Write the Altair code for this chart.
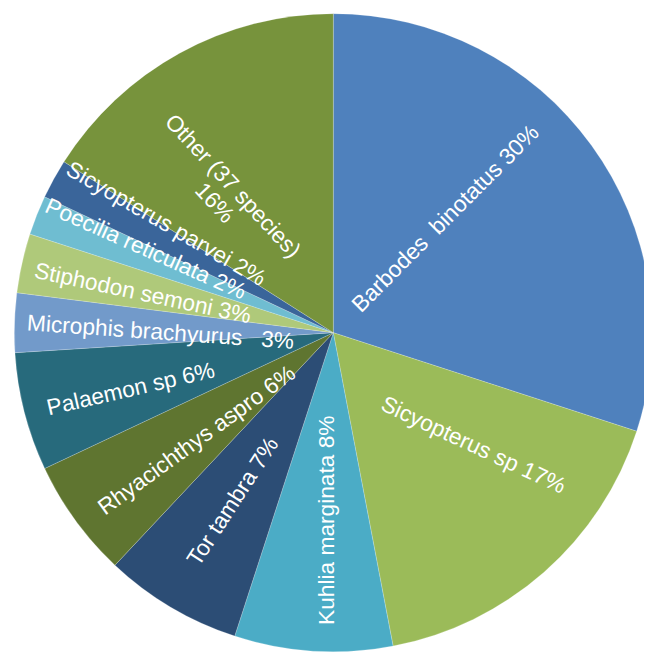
import math
import altair as alt
import pandas as pd

# ---- data ----
species = [
    "Barbodes\u00a0\u00a0binotatus", "Sicyopterus sp", "Kuhlia marginata", "Tor tambra",
    "Rhyacichthys aspro", "Palaemon sp", "Microphis brachyurus\u00a0\u00a0", "Stiphodon semoni",
    "Poecilia reticulata", "Sicyopterus parvei", "Other (37 species)",
]
percent = [30, 17, 8, 7, 6, 6, 3, 3, 2, 2, 16]
colors = [
    "#4F81BD", "#9BBB59", "#4BACC6", "#2C4D75", "#5F7530", "#276A7C",
    "#729ACA", "#AFC97A", "#6FBDD1", "#3A659A", "#77933C",
]

# ---- label layout (annotation styling, not data) ----
label_shift = [-2.6, -2.7, -0.45, 0.0, -0.65, -0.35, -0.5, -0.3, 0.65, 1.15, -1.6]
label_radius = [162, 182, 190, 199, 176, 213, 175, 197, 208, 202, 180]
label_rotation = [315, 25, 270, 303, 324, 347, 4, 12, 24, 30, 47]

cum = []
s = 0
for v in percent:
    cum.append(s)
    s += v

labels = []
for name, v in zip(species, percent):
    if name.startswith("Other"):
        labels.append(f"{name}\n{v}%")
    else:
        labels.append(f"{name} {v}%")

df = pd.DataFrame({
    "species": species,
    "percent": percent,
    "order": list(range(len(species))),
    "label": labels,
    "mid": [c + v / 2 + sh for c, v, sh in zip(cum, percent, label_shift)],
    "lr": label_radius,
    "rot": label_rotation,
})

CX, CY, R = 329.4, 324.7, 323
theta_scale = alt.Scale(domain=[0, 100], range=[0, 2 * math.pi])
color_scale = alt.Scale(domain=species, range=colors)

pie = alt.Chart(df).mark_arc(
    radius=R, stroke="#ffffff", strokeWidth=0.6, strokeOpacity=0.35
).encode(
    theta=alt.Theta("percent:Q", stack=True, scale=theta_scale),
    order=alt.Order("order:Q"),
    color=alt.Color("species:N", scale=color_scale, legend=None),
    x=alt.value(CX),
    y=alt.value(CY),
)

text = alt.Chart(df).mark_text(
    font="Liberation Sans", fontSize=23, color="white",
    align="center", baseline="middle", lineBreak="\n", lineHeight=25,
).encode(
    theta=alt.Theta("mid:Q", stack=None, scale=theta_scale),
    radius=alt.Radius("lr:Q", scale=None),
    angle=alt.Angle("rot:Q", scale=None),
    text="label:N",
    x=alt.value(CX),
    y=alt.value(CY),
)

chart = alt.layer(pie, text).properties(
    width=644, height=644, padding=0,
    autosize=alt.AutoSizeParams(type="none"),
).configure_view(stroke=None)

chart.save("out.html", embed_options={"renderer": "svg", "actions": False})
